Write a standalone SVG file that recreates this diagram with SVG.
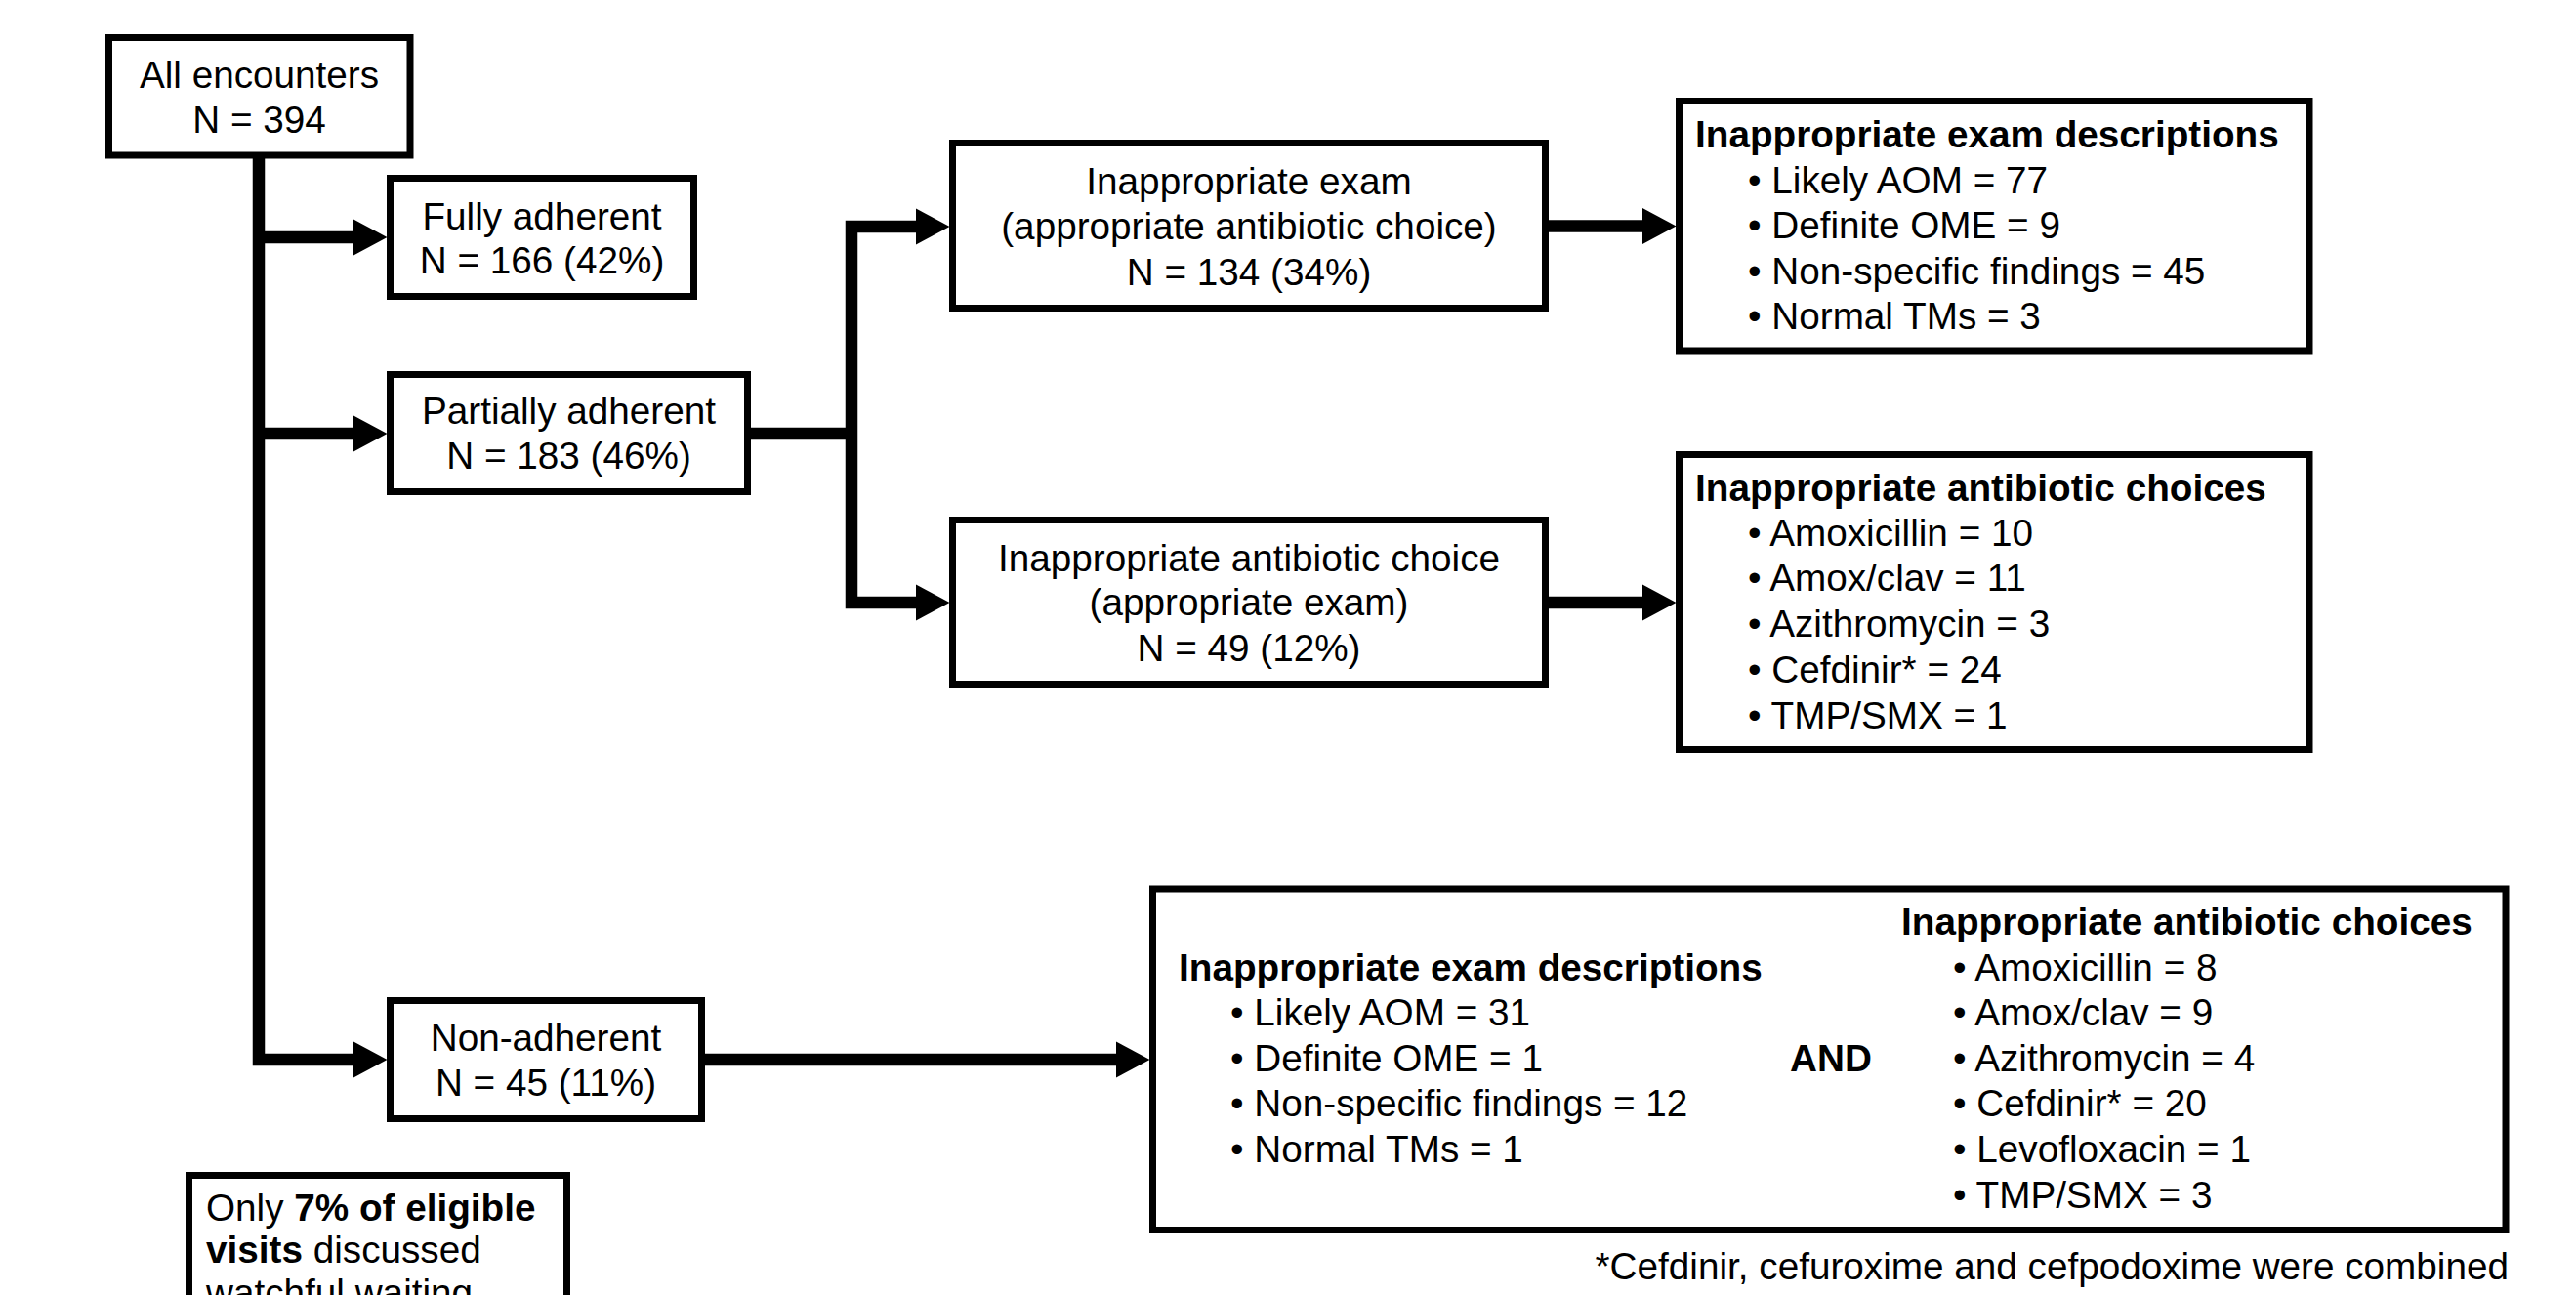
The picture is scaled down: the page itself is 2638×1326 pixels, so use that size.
<svg xmlns="http://www.w3.org/2000/svg" width="2638" height="1326" viewBox="0 0 2638 1326">
<style>
.box{fill:#fff;stroke:#000;stroke-width:7}
.t{font-family:"Liberation Sans",Arial,sans-serif;font-size:38.7px;fill:#000}
.c{text-anchor:middle}
.b{font-weight:bold}
.con{fill:none;stroke:#000;stroke-width:12.5;stroke-linejoin:miter;stroke-linecap:butt}
</style>
<defs>
<marker id="ah" markerUnits="userSpaceOnUse" markerWidth="35" markerHeight="38" viewBox="0 0 35 38" refX="0" refY="19" orient="auto" overflow="visible">
<path d="M0,0.5 L34.5,19 L0,37.5 Z" fill="#000"/>
</marker>
</defs>
<rect width="2638" height="1326" fill="#fff"/>
<g id="connectors">
<path class="con" d="M265,159 V1085 H362" marker-end="url(#ah)"/>
<path class="con" d="M265,243 H362" marker-end="url(#ah)"/>
<path class="con" d="M265,444 H362" marker-end="url(#ah)"/>
<path class="con" d="M765,444 H872"/>
<path class="con" d="M872,444 V232 H938" marker-end="url(#ah)"/>
<path class="con" d="M872,444 V617 H938" marker-end="url(#ah)"/>
<path class="con" d="M1583,231.5 H1682" marker-end="url(#ah)"/>
<path class="con" d="M1583,617 H1682" marker-end="url(#ah)"/>
<path class="con" d="M719,1085 H1143" marker-end="url(#ah)"/>
</g>
<g id="n_all">
<rect class="box" x="111.5" y="38.5" width="308.5" height="120.5"/>
<text class="t c" x="265.5" y="90">All encounters</text>
<text class="t c" x="265.5" y="135.5">N = 394</text>
</g>
<g id="n_full">
<rect class="box" x="399.5" y="182.5" width="311" height="121"/>
<text class="t c" x="555" y="235">Fully adherent</text>
<text class="t c" x="555" y="280">N = 166 (42%)</text>
</g>
<g id="n_partial">
<rect class="box" x="399.5" y="383.5" width="366" height="120"/>
<text class="t c" x="582.5" y="434">Partially adherent</text>
<text class="t c" x="582.5" y="480">N = 183 (46%)</text>
</g>
<g id="n_exam">
<rect class="box" x="975.5" y="146.5" width="607" height="169"/>
<text class="t c" x="1279" y="199">Inappropriate exam</text>
<text class="t c" x="1279" y="244.5">(appropriate antibiotic choice)</text>
<text class="t c" x="1279" y="291.5">N = 134 (34%)</text>
</g>
<g id="n_abx">
<rect class="box" x="975.5" y="532.5" width="607" height="168"/>
<text class="t c" x="1279" y="584.5">Inappropriate antibiotic choice</text>
<text class="t c" x="1279" y="630">(appropriate exam)</text>
<text class="t c" x="1279" y="677">N = 49 (12%)</text>
</g>
<g id="n_examdesc">
<rect class="box" x="1719.5" y="103.5" width="645.5" height="255.5"/>
<text class="t b" x="1736" y="151">Inappropriate exam descriptions</text>
<text class="t" x="1790" y="197.5">• Likely AOM = 77</text>
<text class="t" x="1790" y="244">• Definite OME = 9</text>
<text class="t" x="1790" y="290.5">• Non-specific findings = 45</text>
<text class="t" x="1790" y="337">• Normal TMs = 3</text>
</g>
<g id="n_abxchoices">
<rect class="box" x="1719.5" y="465.5" width="645.5" height="302"/>
<text class="t b" x="1736" y="512.5">Inappropriate antibiotic choices</text>
<text class="t" x="1790" y="558.5">• Amoxicillin = 10</text>
<text class="t" x="1790" y="605">• Amox/clav = 11</text>
<text class="t" x="1790" y="652">• Azithromycin = 3</text>
<text class="t" x="1790" y="699">• Cefdinir* = 24</text>
<text class="t" x="1790" y="745.5">• TMP/SMX = 1</text>
</g>
<g id="n_nonadh">
<rect class="box" x="399.5" y="1024.5" width="319" height="121"/>
<text class="t c" x="559" y="1076">Non-adherent</text>
<text class="t c" x="559" y="1122">N = 45 (11%)</text>
</g>
<g id="n_combined">
<rect class="box" x="1180.5" y="910" width="1385.5" height="349.5"/>
<text class="t b" x="1207" y="1003.5">Inappropriate exam descriptions</text>
<text class="t" x="1260" y="1050">• Likely AOM = 31</text>
<text class="t" x="1260" y="1096.5">• Definite OME = 1</text>
<text class="t" x="1260" y="1143">• Non-specific findings = 12</text>
<text class="t" x="1260" y="1190">• Normal TMs = 1</text>
<text class="t b c" x="1875" y="1097">AND</text>
<text class="t b" x="1947" y="957">Inappropriate antibiotic choices</text>
<text class="t" x="2000" y="1003.5">• Amoxicillin = 8</text>
<text class="t" x="2000" y="1050">• Amox/clav = 9</text>
<text class="t" x="2000" y="1096.5">• Azithromycin = 4</text>
<text class="t" x="2000" y="1143">• Cefdinir* = 20</text>
<text class="t" x="2000" y="1190">• Levofloxacin = 1</text>
<text class="t" x="2000" y="1237">• TMP/SMX = 3</text>
</g>
<g id="footnote">
<text class="t" x="2569" y="1310" text-anchor="end">*Cefdinir, cefuroxime and cefpodoxime were combined</text>
</g>
<g id="n_note">
<rect class="box" x="193.5" y="1203.5" width="387" height="220"/>
<text class="t" x="211" y="1250">Only <tspan class="b">7% of eligible</tspan></text>
<text class="t" x="211" y="1293"><tspan class="b">visits</tspan> discussed</text>
<text class="t" x="211" y="1337">watchful waiting</text>
</g>
</svg>
